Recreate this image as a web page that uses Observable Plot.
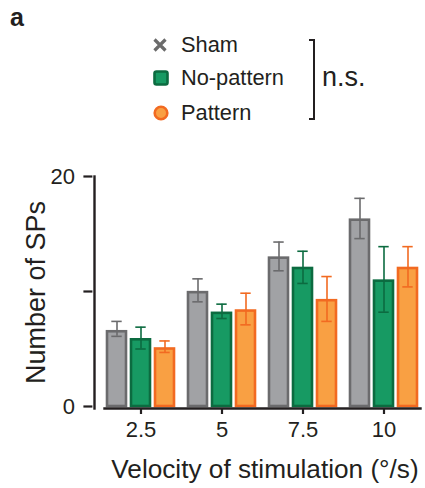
<!DOCTYPE html>
<html>
<head>
<meta charset="utf-8">
<script src="https://cdn.jsdelivr.net/npm/d3@7"></script>
<script src="https://cdn.jsdelivr.net/npm/@observablehq/plot@0.6"></script>
<style>
  html, body { margin: 0; padding: 0; background: #fff; }
  #wrap { position: relative; width: 425px; height: 488px; overflow: hidden;
          font-family: "Liberation Sans", Arial, Helvetica, sans-serif; color: #231f20; }
  #chart { position: absolute; left: 0; top: 0; }
  .abs { position: absolute; white-space: nowrap; }
  .leg { font-size: 21.8px; line-height: 24px; left: 181px; }
  .mk { position: absolute; }
</style>
</head>
<body>
<div id="wrap">
  <div id="chart"></div>
  <div class="abs" style="left:10px; top:2px; font-size:25px; line-height:30px; font-weight:bold;">a</div>
  <svg class="mk" style="left:152px; top:37px" width="16" height="16" viewBox="0 0 16 16">
    <path d="M2.5 2.5 L13.5 13.5 M13.5 2.5 L2.5 13.5" stroke="#6b6b6b" stroke-width="3.2" stroke-linecap="butt"/>
  </svg>
  <svg class="mk" style="left:152px; top:69px" width="18" height="18" viewBox="0 0 18 18">
    <rect x="2.5" y="2.5" width="13" height="13" rx="2" fill="#179a63" stroke="#0c6b40" stroke-width="2.6"/>
  </svg>
  <svg class="mk" style="left:152px; top:104px" width="18" height="18" viewBox="0 0 18 18">
    <circle cx="9" cy="9" r="6.3" fill="#f9a043" stroke="#f26a21" stroke-width="2.6"/>
  </svg>
  <div class="abs leg" style="top:33.2px">Sham</div>
  <div class="abs leg" style="top:66.2px">No-pattern</div>
  <div class="abs leg" style="top:101.2px">Pattern</div>
  <div class="abs" style="left:309px; top:39px; width:4px; height:77px; border:2.5px solid #231f20; border-left:none;"></div>
  <div class="abs" style="left:322px; top:62px; font-size:27px; line-height:30px;">n.s.</div>
</div>
<script>
// ---- data ----
const groups = ["2.5", "5", "7.5", "10"];
const series = ["Sham", "No-pattern", "Pattern"];

const shamMean = [6.5, 9.9, 12.9, 16.2];
const shamLo   = [6.1, 9.1, 11.8, 14.6];
const shamHi   = [7.4, 11.1, 14.3, 18.1];

const noPatternMean = [5.8, 8.1, 12.0, 10.9];
const noPatternLo   = [5.0, 7.65, 10.7, 8.2];
const noPatternHi   = [6.9, 8.9, 13.5, 13.9];

const patternMean = [5.0, 8.3, 9.2, 12.0];
const patternLo   = [4.7, 7.1, 7.4, 10.4];
const patternHi   = [5.7, 9.85, 11.3, 13.9];

const yTicks = [0, 10, 20];
const yLabels = ["0", "", "20"];

const fills   = ["#a1a2a5", "#179a63", "#f9a043"];
const strokes = ["#6b6b6d", "#0c6b40", "#f26a21"];

// ---- table built from the arrays ----
const means = [shamMean, noPatternMean, patternMean];
const los = [shamLo, noPatternLo, patternLo];
const his = [shamHi, noPatternHi, patternHi];
const rows = [];
series.forEach((s, i) => groups.forEach((g, j) => {
  rows.push({group: g, series: s, mean: means[i][j], lo: los[i][j], hi: his[i][j]});
}));

const ink = "#231f20";
const marks = [];
series.forEach((s, i) => {
  const sub = rows.filter(d => d.series === s);
  marks.push(Plot.barY(sub, {fx: "group", x: "series", y: "mean", fill: fills[i], stroke: strokes[i], strokeWidth: 2.6}));
});
series.forEach((s, i) => {
  const sub = rows.filter(d => d.series === s);
  marks.push(Plot.ruleX(sub, {fx: "group", x: "series", y1: "lo", y2: "hi", stroke: strokes[i], strokeWidth: 1.6}));
  marks.push(Plot.tickY(sub, {fx: "group", x: "series", y: "hi", stroke: strokes[i], strokeWidth: 1.6, insetLeft: 4.3, insetRight: 4.3}));
  marks.push(Plot.tickY(sub, {fx: "group", x: "series", y: "lo", stroke: strokes[i], strokeWidth: 1.6, insetLeft: 4.3, insetRight: 4.3}));
});

marks.push(Plot.frame({anchor: "bottom", facet: "super", stroke: ink, strokeWidth: 2.4}));
marks.push(Plot.frame({anchor: "left", facet: "super", stroke: ink, strokeWidth: 2.4, dx: -10}));
marks.push(Plot.axisY({
  ticks: yTicks, tickFormat: (d) => yLabels[yTicks.indexOf(d)],
  tickSize: 9, tickPadding: 9, label: null, facetAnchor: "left", dx: -11.6,
  stroke: ink, strokeWidth: 2.2, fill: ink, fontSize: 22
}));
marks.push(Plot.axisFx({
  anchor: "bottom", tickSize: 6, tickPadding: 7, label: null,
  stroke: ink, strokeWidth: 2.2, fill: ink, fontSize: 22
}));
marks.push(Plot.text(["Number of SPs"], {frameAnchor: "left", facet: "super", rotate: -90, textAnchor: "middle", lineAnchor: "middle", dx: -68.5, fontSize: 27, fill: ink}));
marks.push(Plot.text(["Velocity of stimulation (°/s)"], {frameAnchor: "bottom", facet: "super", textAnchor: "middle", lineAnchor: "middle", dx: 2.5, dy: 61, fontSize: 26.2, fill: ink}));

const chart = Plot.plot({
  width: 425,
  height: 488,
  marginTop: 176,
  marginBottom: 80,
  marginLeft: 100,
  marginRight: 2,
  style: {fontFamily: "'Liberation Sans', Arial, Helvetica, sans-serif", fontSize: "22px", color: ink, background: "transparent", overflow: "visible"},
  fx: {domain: groups, paddingInner: 0.1, paddingOuter: 0.02, axis: null},
  x: {domain: series, paddingInner: 0.2, paddingOuter: 0.1, axis: null},
  y: {domain: [0, 20], insetBottom: 2, axis: null},
  marks
});
document.getElementById("chart").appendChild(chart);
</script>
</body>
</html>
